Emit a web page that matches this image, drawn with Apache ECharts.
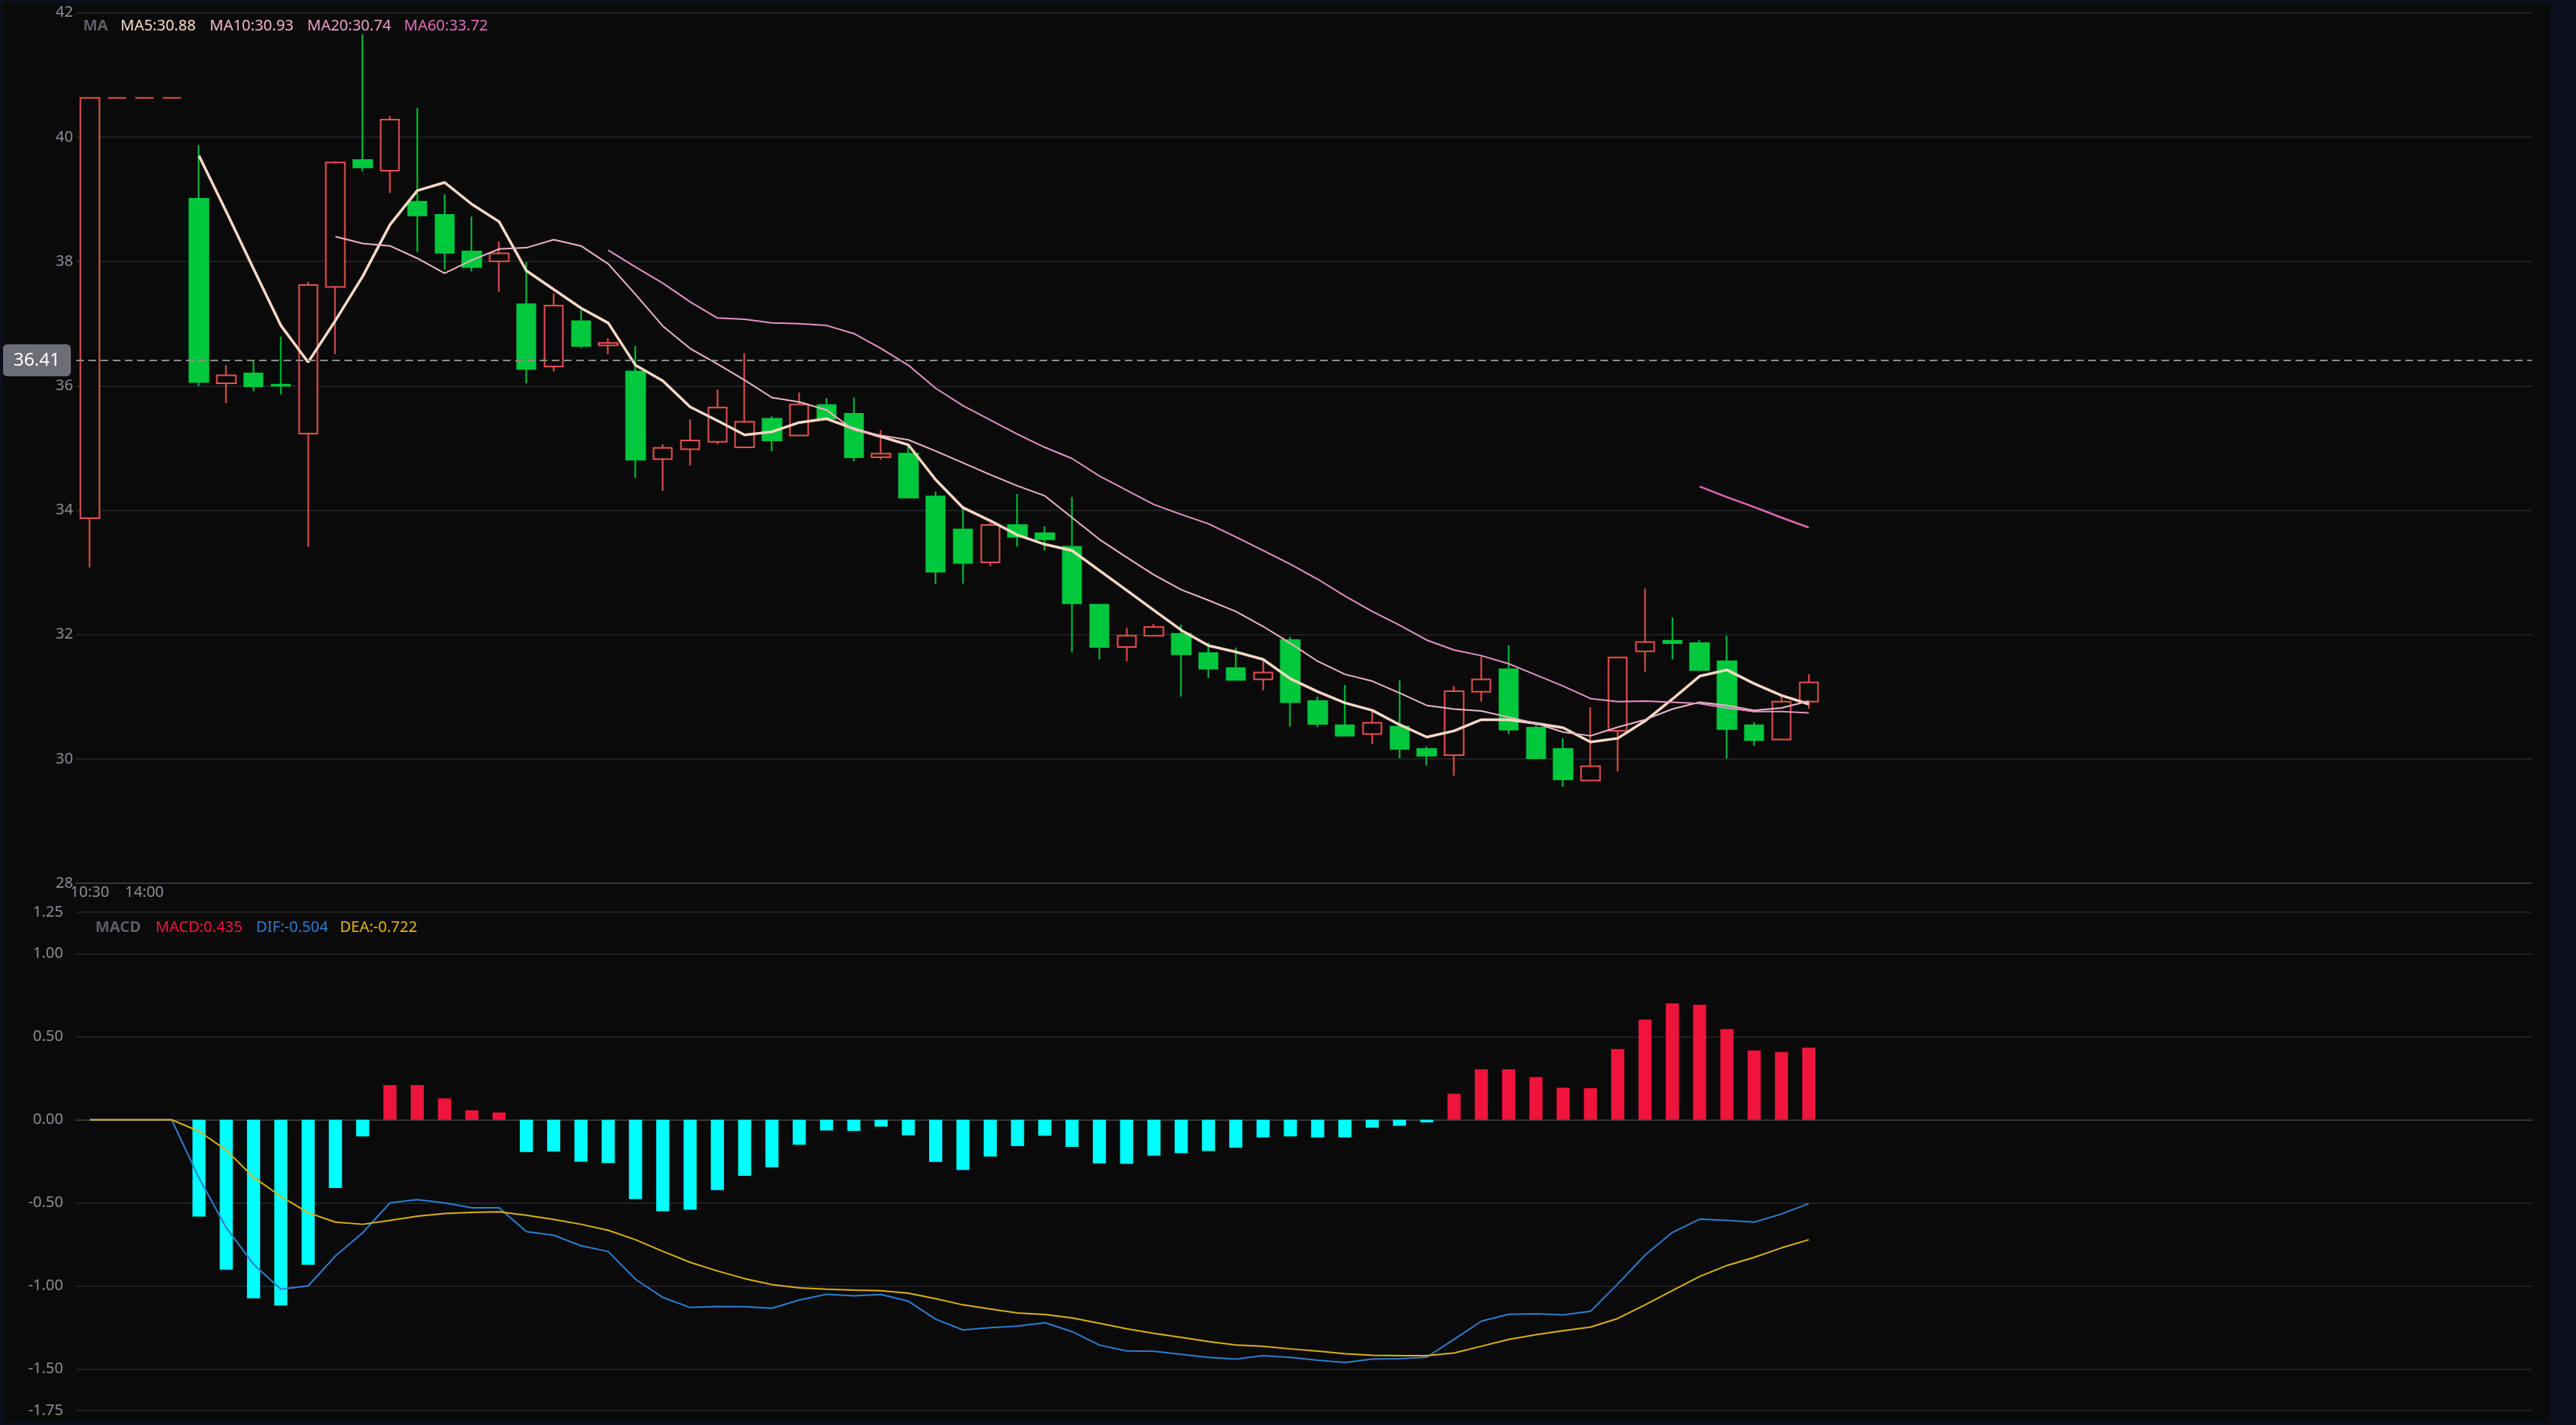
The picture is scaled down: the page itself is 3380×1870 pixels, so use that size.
<!DOCTYPE html>
<html>
<head>
<meta charset="utf-8">
<title>K线 MA MACD</title>
<script src="https://cdn.jsdelivr.net/npm/echarts@6/dist/echarts.min.js"></script>
<style>
html,body{margin:0;padding:0;background:#0b0f1c;width:3380px;height:1870px;overflow:hidden}
#main{position:absolute;left:4px;top:4px;width:3342px;height:1862px;background:#0a0a0a}
</style>
</head>
<body>
<div id="main"></div>
<script>
// x轴标签 (只有前面几个有文字)
const timeLabels = ['10:30', '', '14:00']
const slotCount = 90

const opens  = [33.87,40.63,40.63,40.63,39.01,36.04,36.20,36.02,35.23,37.59,39.63,39.46,38.96,38.75,38.16,38.00,37.31,36.31,37.04,36.65,36.23,34.82,34.98,35.10,35.01,35.47,35.20,35.69,35.55,34.85,34.91,34.22,33.69,33.16,33.76,33.63,33.41,32.48,31.80,31.98,32.01,31.70,31.46,31.28,31.91,30.93,30.54,30.40,30.52,30.16,30.06,31.08,31.44,30.50,30.16,29.65,30.45,31.73,31.90,31.86,31.57,30.54,30.31,30.92]
const closes = [40.63,40.63,40.63,40.63,36.06,36.17,35.99,36.00,37.62,39.59,39.51,40.28,38.74,38.14,37.91,38.13,36.27,37.29,36.64,36.69,34.81,35.00,35.12,35.65,35.42,35.12,35.70,35.47,34.85,34.91,34.20,33.01,33.15,33.76,33.57,33.53,32.50,31.80,31.98,32.12,31.68,31.45,31.27,31.39,30.91,30.56,30.37,30.58,30.16,30.05,31.09,31.28,30.47,30.01,29.67,29.88,31.63,31.88,31.86,31.43,30.48,30.30,30.92,31.23]
const lows   = [33.08,40.63,40.63,40.63,35.99,35.72,35.91,35.86,33.41,36.51,39.45,39.10,38.15,37.87,37.84,37.51,36.04,36.23,36.61,36.51,34.52,34.31,34.72,35.06,35.00,34.95,35.20,35.45,34.79,34.81,34.19,32.81,32.82,33.10,33.41,33.35,31.71,31.60,31.57,31.98,31.00,31.30,31.26,31.10,30.52,30.51,30.37,30.24,30.01,29.89,29.73,30.92,30.40,30.01,29.55,29.65,29.80,31.40,31.60,31.41,30.00,30.21,30.31,30.81]
const highs  = [40.63,40.63,40.63,40.63,39.87,36.33,36.40,36.79,37.67,39.61,41.65,40.34,40.47,39.08,38.72,38.32,37.99,37.49,37.22,36.76,36.64,35.06,35.46,35.94,36.52,35.51,35.89,35.80,35.81,35.29,35.07,34.30,34.07,33.80,34.26,33.74,34.21,32.48,32.11,32.17,32.16,31.87,31.79,31.57,31.96,31.00,31.19,30.78,31.26,30.20,31.17,31.65,31.83,30.55,30.33,30.83,31.63,32.74,32.27,31.91,31.98,30.59,31.02,31.36]

// 均线
const ma5 = [null,null,null,null,39.70,38.80,37.88,36.97,36.38,37.05,37.76,38.59,39.14,39.27,38.92,38.64,37.85,37.55,37.25,37.01,36.33,36.08,35.66,35.44,35.21,35.26,35.41,35.47,35.31,35.18,35.05,34.49,34.04,33.83,33.60,33.45,33.35,33.03,32.71,32.39,32.07,31.82,31.72,31.60,31.29,31.08,30.90,30.78,30.55,30.35,30.45,30.63,30.63,30.57,30.50,30.27,30.33,30.61,30.96,31.33,31.43,31.21,31.02,30.88]
const ma10 = [null,null,null,null,null,null,null,null,null,38.40,38.29,38.25,38.05,37.81,38.02,38.20,38.22,38.35,38.25,37.96,37.47,36.96,36.60,36.35,36.09,35.81,35.74,35.61,35.29,35.20,35.13,34.95,34.76,34.57,34.39,34.23,33.88,33.53,33.24,32.96,32.72,32.55,32.37,32.13,31.86,31.57,31.36,31.25,31.06,30.86,30.80,30.77,30.67,30.57,30.43,30.37,30.51,30.63,30.80,30.91,30.86,30.78,30.82,30.93]
const ma20 = [null,null,null,null,null,null,null,null,null,null,null,null,null,null,null,null,null,null,null,38.18,37.91,37.65,37.35,37.09,37.07,37.01,37.00,36.97,36.84,36.60,36.33,35.96,35.68,35.45,35.22,35.01,34.83,34.55,34.32,34.09,33.93,33.78,33.57,33.35,33.13,32.89,32.62,32.37,32.15,31.91,31.75,31.66,31.53,31.35,31.17,30.97,30.92,30.93,30.91,30.89,30.82,30.76,30.76,30.74]
const ma60 = [null,null,null,null,null,null,null,null,null,null,null,null,null,null,null,null,null,null,null,null,null,null,null,null,null,null,null,null,null,null,null,null,null,null,null,null,null,null,null,null,null,null,null,null,null,null,null,null,null,null,null,null,null,null,null,null,null,null,null,34.38,34.21,34.05,33.88,33.72]

// MACD
const macdBars = [0,0,0,0,-0.583,-0.902,-1.074,-1.118,-0.873,-0.410,-0.100,0.209,0.209,0.129,0.057,0.044,-0.194,-0.191,-0.252,-0.260,-0.477,-0.551,-0.541,-0.423,-0.337,-0.286,-0.150,-0.064,-0.067,-0.041,-0.093,-0.253,-0.302,-0.221,-0.158,-0.096,-0.163,-0.263,-0.265,-0.216,-0.201,-0.188,-0.168,-0.106,-0.100,-0.106,-0.106,-0.047,-0.036,-0.015,0.157,0.304,0.304,0.257,0.193,0.190,0.425,0.603,0.701,0.693,0.546,0.418,0.408,0.435]
const difLine = [0,0,0,0,-0.35,-0.65,-0.87,-1.02,-1.00,-0.82,-0.68,-0.50,-0.48,-0.50,-0.53,-0.53,-0.673,-0.695,-0.758,-0.793,-0.960,-1.069,-1.130,-1.124,-1.125,-1.134,-1.085,-1.050,-1.060,-1.052,-1.092,-1.200,-1.265,-1.251,-1.242,-1.221,-1.275,-1.356,-1.391,-1.393,-1.412,-1.430,-1.440,-1.420,-1.430,-1.447,-1.461,-1.440,-1.438,-1.429,-1.322,-1.212,-1.171,-1.167,-1.174,-1.153,-0.988,-0.814,-0.678,-0.598,-0.605,-0.616,-0.567,-0.504]
const deaLine = [0,0,0,0,-0.069,-0.183,-0.346,-0.461,-0.559,-0.616,-0.629,-0.605,-0.580,-0.564,-0.557,-0.554,-0.575,-0.600,-0.629,-0.665,-0.722,-0.792,-0.858,-0.910,-0.956,-0.992,-1.011,-1.020,-1.025,-1.029,-1.044,-1.077,-1.114,-1.139,-1.163,-1.172,-1.193,-1.225,-1.258,-1.286,-1.310,-1.335,-1.355,-1.364,-1.379,-1.392,-1.408,-1.417,-1.420,-1.420,-1.404,-1.363,-1.322,-1.294,-1.270,-1.248,-1.196,-1.114,-1.028,-0.943,-0.877,-0.828,-0.771,-0.722]

const lastPrice = 36.41

const upColor = '#e9504e'
const downColor = '#00c83c'
const axisText = '#8a8e97'
const splitColor = '#1f2025'
const fontFamily = '"Noto Sans", sans-serif'

// 拼数据
const categories = []
for (let i = 0; i < slotCount; i++) categories.push(timeLabels[i] || '')
const kData = opens.map((o, i) => [o, closes[i], lows[i], highs[i]])
const last = arr => arr[arr.length - 1]

const legendText = (x, y, text, color, bold) => ({
  type: 'text', x: x, y: y,
  style: { text: text, fill: color, font: (bold ? 'bold ' : '') + '20px ' + fontFamily, verticalAlign: 'middle' }
})

const myChart = echarts.init(document.getElementById('main'))
myChart.setOption({
  animation: false,
  backgroundColor: '#0a0a0a',
  textStyle: { fontFamily: fontFamily },
  grid: [
    { left: 96, top: 12.7, width: 3222, height: 1142.3 },
    { left: 96, top: 1193, width: 3222, height: 654 }
  ],
  graphic: [
    legendText(105, 30, 'MA', '#5b5e66', true),
    legendText(154, 30, 'MA5:' + last(ma5).toFixed(2), '#f8dcc6'),
    legendText(271, 30, 'MA10:' + last(ma10).toFixed(2), '#f4b8cd'),
    legendText(399, 30, 'MA20:' + last(ma20).toFixed(2), '#ee9fcc'),
    legendText(526, 30, 'MA60:' + last(ma60).toFixed(2), '#e56fbf'),
    legendText(121, 1213, 'MACD', '#5b5e66', true),
    legendText(200, 1213, 'MACD:' + last(macdBars).toFixed(3), '#f0173f'),
    legendText(332, 1213, 'DIF:' + last(difLine).toFixed(3), '#2d7fd3'),
    legendText(442, 1213, 'DEA:' + last(deaLine).toFixed(3), '#e6b80c')
  ],
  xAxis: [
    {
      type: 'category', gridIndex: 0, data: categories, boundaryGap: true,
      axisLine: { lineStyle: { color: '#34353b', width: 2 } },
      axisTick: { show: false },
      axisLabel: { color: axisText, fontSize: 20, margin: 2, interval: 0 },
      splitLine: { show: false }
    },
    {
      type: 'category', gridIndex: 1, data: categories, boundaryGap: true,
      axisLine: { onZero: true, lineStyle: { color: '#34353b', width: 2 } },
      axisTick: { show: false },
      axisLabel: { show: false },
      splitLine: { show: false }
    }
  ],
  yAxis: [
    {
      type: 'value', gridIndex: 0, min: 28, max: 42, interval: 2,
      axisLine: { show: false }, axisTick: { show: false },
      axisLabel: { color: axisText, fontSize: 20, margin: 4 },
      splitLine: { lineStyle: { color: splitColor, width: 2 } }
    },
    {
      type: 'value', gridIndex: 1, min: -1.75, max: 1.25,
      axisLine: { show: false }, axisTick: { show: false },
      axisLabel: { color: axisText, fontSize: 20, margin: 17, formatter: v => v.toFixed(2) },
      splitLine: { lineStyle: { color: splitColor, width: 2 } }
    }
  ],
  series: [
    {
      name: 'K', type: 'candlestick', xAxisIndex: 0, yAxisIndex: 0,
      data: kData, barWidth: '70%',
      itemStyle: {
        color: '#0a0a0a', color0: downColor,
        borderColor: upColor, borderColor0: downColor, borderWidth: 2
      },
      markLine: {
        silent: true, symbol: ['none', 'none'],
        data: [{ yAxis: lastPrice }],
        lineStyle: { type: [10, 6], color: '#8c8c8c', width: 2 },
        label: {
          position: 'start', distance: 7, formatter: lastPrice.toFixed(2),
          color: '#ffffff', fontSize: 24, backgroundColor: '#6b6e76',
          borderRadius: 6, padding: [9, 14]
        }
      }
    },
    { name: 'MA5', type: 'line', data: ma5, symbol: 'none', lineStyle: { width: 3.5, color: '#fad8c4' } },
    { name: 'MA10', type: 'line', data: ma10, symbol: 'none', lineStyle: { width: 2, color: '#efb4c8' } },
    { name: 'MA20', type: 'line', data: ma20, symbol: 'none', lineStyle: { width: 2, color: '#e392c4' } },
    { name: 'MA60', type: 'line', data: ma60, symbol: 'none', lineStyle: { width: 2.5, color: '#e466b8' } },
    {
      name: 'MACD', type: 'bar', xAxisIndex: 1, yAxisIndex: 1,
      data: macdBars, barWidth: '48%',
      itemStyle: { color: p => p.value >= 0 ? '#f0143c' : '#00ffff' }
    },
    { name: 'DIF', type: 'line', xAxisIndex: 1, yAxisIndex: 1, data: difLine, symbol: 'none', lineStyle: { width: 2, color: '#2c7ed0' } },
    { name: 'DEA', type: 'line', xAxisIndex: 1, yAxisIndex: 1, data: deaLine, symbol: 'none', lineStyle: { width: 2, color: '#dcb012' } }
  ]
})
</script>
</body>
</html>
